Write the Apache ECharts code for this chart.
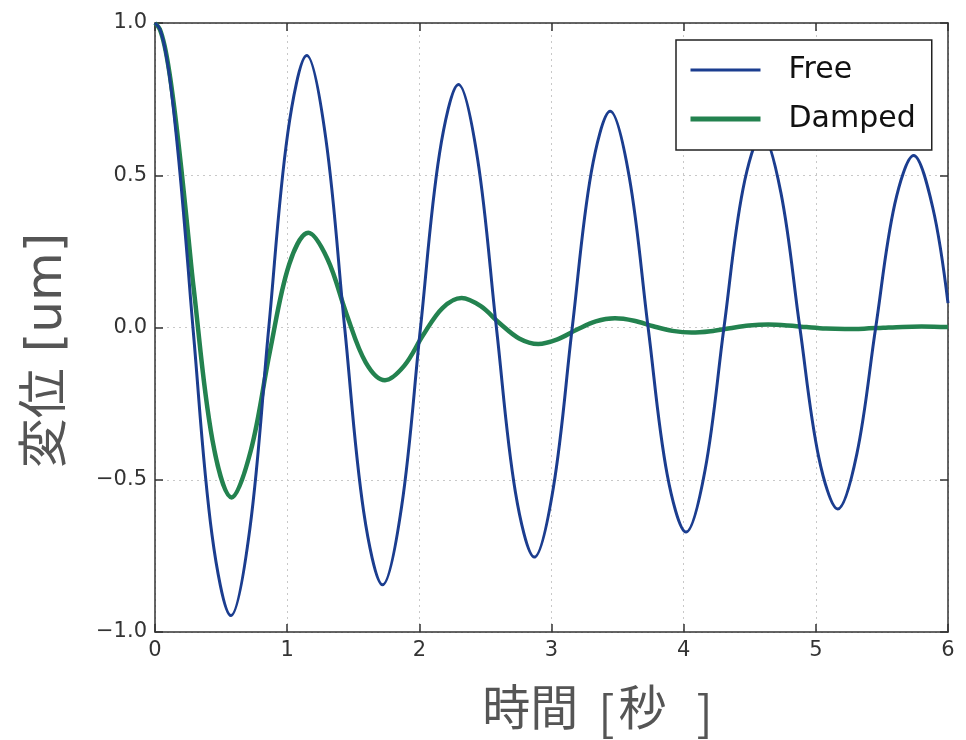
<!DOCTYPE html>
<html>
<head>
<meta charset="utf-8">
<script src="https://cdn.jsdelivr.net/npm/echarts@6/dist/echarts.min.js"></script>
<style>html,body{margin:0;padding:0;background:#fff;}#c{width:966px;height:740px;}</style>
</head>
<body>
<div id="c"></div>
<script>
// Time [s] samples and displacement values
const freeT = [0, 0.036, 0.072, 0.108, 0.144, 0.18, 0.215, 0.251, 0.287, 0.431, 0.574, 0.718, 0.861, 1.005, 1.148, 1.292, 1.435, 1.579, 1.722, 1.866, 2.009, 2.153, 2.296, 2.44, 2.583, 2.727, 2.87, 3.014, 3.157, 3.301, 3.444, 3.588, 3.731, 3.875, 4.018, 4.162, 4.305, 4.449, 4.592, 4.736, 4.879, 5.023, 5.166, 5.31, 5.453, 5.597, 5.74, 5.884, 6.0];
const freeY = [1.0, 0.981, 0.923, 0.83, 0.70, 0.548, 0.38, 0.193, 0.0, -0.68, -0.946, -0.66, 0.0, 0.64, 0.893, 0.622, 0.0, -0.605, -0.845, -0.588, 0.0, 0.572, 0.798, 0.556, 0.0, -0.541, -0.754, -0.526, 0.0, 0.51, 0.71, 0.495, 0.0, -0.482, -0.672, -0.468, 0.0, 0.455, 0.635, 0.442, 0.0, -0.428, -0.596, -0.416, 0.0, 0.405, 0.565, 0.395, 0.08];

const dampT = [0, 0.036, 0.0725, 0.109, 0.145, 0.18, 0.2175, 0.254, 0.29, 0.435, 0.58, 0.725, 0.87, 1.015, 1.16, 1.305, 1.45, 1.595, 1.74, 1.885, 2.03, 2.175, 2.32, 2.465, 2.61, 2.755, 2.9, 3.045, 3.19, 3.335, 3.48, 3.625, 3.77, 3.915, 4.06, 4.205, 4.35, 4.495, 4.64, 4.785, 4.93, 5.075, 5.22, 5.365, 5.51, 5.655, 5.8, 5.945, 6.0];
const dampY = [1.0, 0.98, 0.925, 0.837, 0.724, 0.596, 0.446, 0.291, 0.139, -0.371, -0.558, -0.404, -0.077, 0.207, 0.311, 0.225, 0.043, -0.115, -0.173, -0.126, -0.024, 0.064, 0.097, 0.07, 0.013, -0.036, -0.054, -0.039, -0.0075, 0.02, 0.03, 0.022, 0.004, -0.011, -0.0167, -0.012, -0.0023, 0.0062, 0.0095, 0.0068, 0.0013, -0.0035, -0.005, -0.0037, -0.0007, 0.002, 0.003, 0.002, 0.0017];

const seriesNames = ['Free', 'Damped'];
const xTicks = [0, 1, 2, 3, 4, 5, 6];
const yTicks = [-1.0, -0.5, 0.0, 0.5, 1.0];
const xTitleParts = ['時間', '[', '秒', ']'];
const yTitle = '変位 [um]';

const FONT = '"DejaVu Sans", "Noto Sans CJK JP", sans-serif';
const CJK = '"Noto Sans CJK JP", sans-serif';
const BLUE = '#1b3d8f', GREEN = '#23824f';
const TITLE_COLOR = '#555';
const axisLineStyle = { color: '#333', width: 1.5 };
const zip = (a, b) => a.map((v, i) => [v, b[i]]);

const titleRich = {
  t: { fontFamily: FONT, fontSize: 48, color: TITLE_COLOR },
  l: { fontFamily: CJK, fontSize: 48, color: TITLE_COLOR, padding: [0, 0, 0, 20] },
  s: { fontFamily: FONT, fontSize: 48, color: TITLE_COLOR, padding: [0, 0, 0, 4] },
  r: { fontFamily: CJK, fontSize: 48, color: TITLE_COLOR, padding: [0, 0, 0, 30] }
};
const xTitle = `{t|${xTitleParts[0]}}{l|${xTitleParts[1]}}{s|${xTitleParts[2]}}{r|${xTitleParts[3]}}`;

const chart = echarts.init(document.getElementById('c'), null, { renderer: 'canvas' });
chart.setOption({
  backgroundColor: '#ffffff',
  animation: false,
  grid: { left: 155, right: 18, top: 23, bottom: 108, containLabel: false, outerBoundsMode: 'none' },
  legend: {
    data: [
      { name: seriesNames[0], lineStyle: { color: BLUE, width: 3 } },
      { name: seriesNames[1], lineStyle: { color: GREEN, width: 5 } }
    ],
    orient: 'vertical',
    left: 676, top: 40,
    padding: [15, 16, 16, 12],
    itemWidth: 70, itemHeight: 26,
    itemGap: 19,
    itemStyle: { opacity: 0, borderWidth: 0 },
    borderColor: '#222', borderWidth: 1.5, borderRadius: 0,
    backgroundColor: '#fff',
    textStyle: { fontFamily: FONT, fontSize: 30, color: '#111', padding: [0, 0, 0, 23] }
  },
  xAxis: [{
    type: 'value', min: xTicks[0], max: xTicks[xTicks.length - 1], interval: 1,
    name: xTitle, nameLocation: 'middle', nameGap: 57,
    nameTextStyle: { fontFamily: FONT, fontSize: 48, color: TITLE_COLOR, padding: [0, 0, 0, 92], rich: titleRich },
    axisLine: { show: true, onZero: false, lineStyle: axisLineStyle },
    axisTick: { show: true, inside: true, length: 8, lineStyle: axisLineStyle },
    axisLabel: { fontFamily: FONT, fontSize: 21, color: '#333', margin: 8 },
    splitLine: { show: true, lineStyle: { color: '#c8c8c8', type: [2, 4], width: 1 } }
  }, {
    type: 'value', position: 'top', min: xTicks[0], max: xTicks[xTicks.length - 1], interval: 1,
    axisLine: { show: true, onZero: false, lineStyle: axisLineStyle },
    axisTick: { show: true, inside: true, length: 8, lineStyle: axisLineStyle },
    axisLabel: { show: false }, splitLine: { show: false }
  }],
  yAxis: [{
    type: 'value', min: yTicks[0], max: yTicks[yTicks.length - 1], interval: 0.5,
    name: yTitle, nameLocation: 'middle', nameGap: 82, nameRotate: 90,
    nameTextStyle: { fontFamily: FONT, fontSize: 50, color: TITLE_COLOR, padding: [0, 46, 0, 0] },
    axisLine: { show: true, onZero: false, lineStyle: axisLineStyle },
    axisTick: { show: true, inside: true, length: 8, lineStyle: axisLineStyle },
    axisLabel: {
      fontFamily: FONT, fontSize: 21, color: '#333', margin: 8,
      formatter: v => (v < 0 ? '\u2212' : '') + Math.abs(v).toFixed(1)
    },
    splitLine: { show: true, lineStyle: { color: '#c8c8c8', type: [2, 4], width: 1 } }
  }, {
    type: 'value', position: 'right', min: yTicks[0], max: yTicks[yTicks.length - 1], interval: 0.5,
    axisLine: { show: true, onZero: false, lineStyle: axisLineStyle },
    axisTick: { show: true, inside: true, length: 8, lineStyle: axisLineStyle },
    axisLabel: { show: false }, splitLine: { show: false }
  }],
  series: [{
    name: seriesNames[0], type: 'line', data: zip(freeT, freeY),
    smooth: 0.35, symbol: 'none', clip: true,
    lineStyle: { color: BLUE, width: 3 }, itemStyle: { color: BLUE }, z: 3
  }, {
    name: seriesNames[1], type: 'line', data: zip(dampT, dampY),
    smooth: 0.35, symbol: 'none', clip: true,
    lineStyle: { color: GREEN, width: 4.5 }, itemStyle: { color: GREEN }, z: 2
  }]
});
</script>
</body>
</html>
